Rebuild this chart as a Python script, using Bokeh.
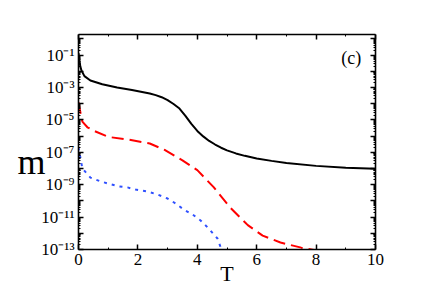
from bokeh.plotting import figure
from bokeh.models import (Range1d, FixedTicker, LogAxis, LinearAxis,
                          CustomJSTickFormatter, Label)
from bokeh.embed import file_html
from bokeh.resources import INLINE

# ---- data ----
T_black = [0, 0.03, 0.06, 0.1, 0.2, 0.4, 0.8, 1.3, 1.8, 2.4, 2.6, 2.8, 3.0,
           3.2, 3.4, 3.6, 3.8, 4.0, 4.2, 4.4, 4.6, 4.8, 5.0, 5.3, 5.6, 6.0,
           6.5, 7.0, 8.0, 9.0, 10.0]
m_black = [1.32e-1, 5.0e-2, 2.0e-2, 1.12e-2, 5.0e-3, 2.69e-3, 1.58e-3,
           1.0e-3, 7.08e-4, 4.27e-4, 3.39e-4, 2.51e-4, 1.66e-4, 9.55e-5,
           5.01e-5, 1.78e-5, 5.62e-6, 2.09e-6, 9.55e-7, 5.01e-7, 3.02e-7,
           1.91e-7, 1.32e-7, 8.51e-8, 6.03e-8, 4.17e-8, 2.95e-8, 2.19e-8,
           1.45e-8, 1.12e-8, 9.55e-9]

T_red = [0, 0.03, 0.07, 0.13, 0.3, 0.5, 1.0, 1.7, 2.4, 2.9, 3.5, 4.0, 4.55,
         5.1, 5.7, 6.2, 6.8, 7.5, 8.2]
m_red = [1.26e-4, 6.3e-5, 2.5e-5, 7.9e-6, 3.5e-6, 2.2e-6, 8.9e-7, 6.0e-7,
         3.5e-7, 1.4e-7, 3.2e-8, 7.9e-9, 7.1e-10, 4.0e-11, 3.2e-12,
         7.2e-13, 2.7e-13, 1.3e-13, 7.6e-14]

T_blue = [0, 0.03, 0.07, 0.13, 0.4, 0.74, 1.0, 1.35, 1.65, 1.92, 2.32, 2.66,
          3.0, 3.27, 3.54, 3.84, 4.11, 4.38, 4.68, 4.85]
m_blue = [2.0e-7, 1.0e-7, 4.0e-8, 1.0e-8, 2.75e-9, 1.6e-9, 1.17e-9, 7.9e-10,
          6.8e-10, 5.0e-10, 3.8e-10, 2.5e-10, 1.4e-10, 6.9e-11, 2.95e-11,
          1.45e-11, 6.2e-12, 2.0e-12, 4.8e-13, 6.3e-14]

x_ticks = [0, 2, 4, 6, 8, 10]
x_minor = [1, 3, 5, 7, 9]
y_ticks = [10.0 ** k for k in range(-13, 1)]
y_minor = [m * 10.0 ** k for k in range(-14, 1) for m in range(2, 10)]
y_title = "m"
y_title_at = [10.0 ** -7.57]
x_title = "T"
panel_tag = "(c)"

FONT = "'Liberation Serif'"

p = figure(width=436, height=300, output_backend="svg", toolbar_location=None,
           x_range=Range1d(0, 10), y_range=Range1d(1e-13, 10 ** 0.27),
           y_axis_type="log", min_border_left=78, min_border_right=61,
           min_border_top=34, min_border_bottom=51,
           background_fill_color="white", border_fill_color="white")
p.outline_line_color = None
p.xgrid.visible = False
p.ygrid.visible = False

p.line(T_black, m_black, line_color="black", line_width=2)
p.line(T_red, m_red, line_color="#ff0000", line_width=2, line_dash="12 6")
p.line(T_blue, m_blue, line_color="#2f50ff", line_width=2, line_dash="3 5")

sup_code = """
const sup = {"-":"\u207b","0":"\u2070","1":"\u00b9","2":"\u00b2","3":"\u00b3",
             "4":"\u2074","5":"\u2075","6":"\u2076","7":"\u2077","8":"\u2078","9":"\u2079"};
const e = Math.round(Math.log10(tick));
if (e % 2 === 0) return "";
return "10" + String(e).split("").map(c => sup[c]).join("");
"""

def style(ax, labels=True):
    ax.axis_line_width = 1.6
    ax.axis_line_color = "black"
    ax.major_tick_in = 5
    ax.major_tick_out = 0
    ax.minor_tick_in = 2
    ax.minor_tick_out = 0
    ax.major_tick_line_width = 1.5
    ax.minor_tick_line_width = 1
    ax.major_label_text_font = FONT
    ax.major_label_text_font_size = "17px" if labels else "0px"
    ax.major_label_text_color = "black"

# bottom x axis
xa = p.xaxis[0]
xa.ticker = FixedTicker(ticks=x_ticks, minor_ticks=x_minor)
style(xa)
xa.major_label_standoff = 4
xa.axis_label = x_title
xa.axis_label_text_font = FONT
xa.axis_label_text_font_size = "22px"
xa.axis_label_text_font_style = "normal"
xa.axis_label_text_color = "black"
xa.axis_label_standoff = -7

# left y axis
ya = p.yaxis[0]
ya.ticker = FixedTicker(ticks=y_ticks, minor_ticks=y_minor)
ya.formatter = CustomJSTickFormatter(code=sup_code)
style(ya)
ya.major_label_standoff = 4

# outer left axis that only carries the upright title "m"
title_axis = LogAxis(ticker=FixedTicker(ticks=y_title_at, minor_ticks=[]),
                     formatter=CustomJSTickFormatter(code='return "%s";' % y_title))
title_axis.axis_line_color = None
title_axis.major_tick_line_color = None
title_axis.minor_tick_line_color = None
title_axis.major_label_text_font = FONT
title_axis.major_label_text_font_size = "36px"
title_axis.major_label_text_color = "black"
title_axis.major_label_standoff = -13
p.add_layout(title_axis, "left")

# mirrored axes
top = LinearAxis(ticker=FixedTicker(ticks=x_ticks, minor_ticks=x_minor),
                 formatter=CustomJSTickFormatter(code='return "";'))
style(top, labels=False)
p.add_layout(top, "above")

right = LogAxis(ticker=FixedTicker(ticks=y_ticks, minor_ticks=y_minor),
                formatter=CustomJSTickFormatter(code='return "";'))
style(right, labels=False)
p.add_layout(right, "right")

p.add_layout(Label(x=8.85, y=10 ** -1.15, text=panel_tag, text_font=FONT,
                   text_font_size="18px", text_color="black",
                   text_baseline="alphabetic", text_align="left"))

open("out.html", "w").write(file_html(p, INLINE))
